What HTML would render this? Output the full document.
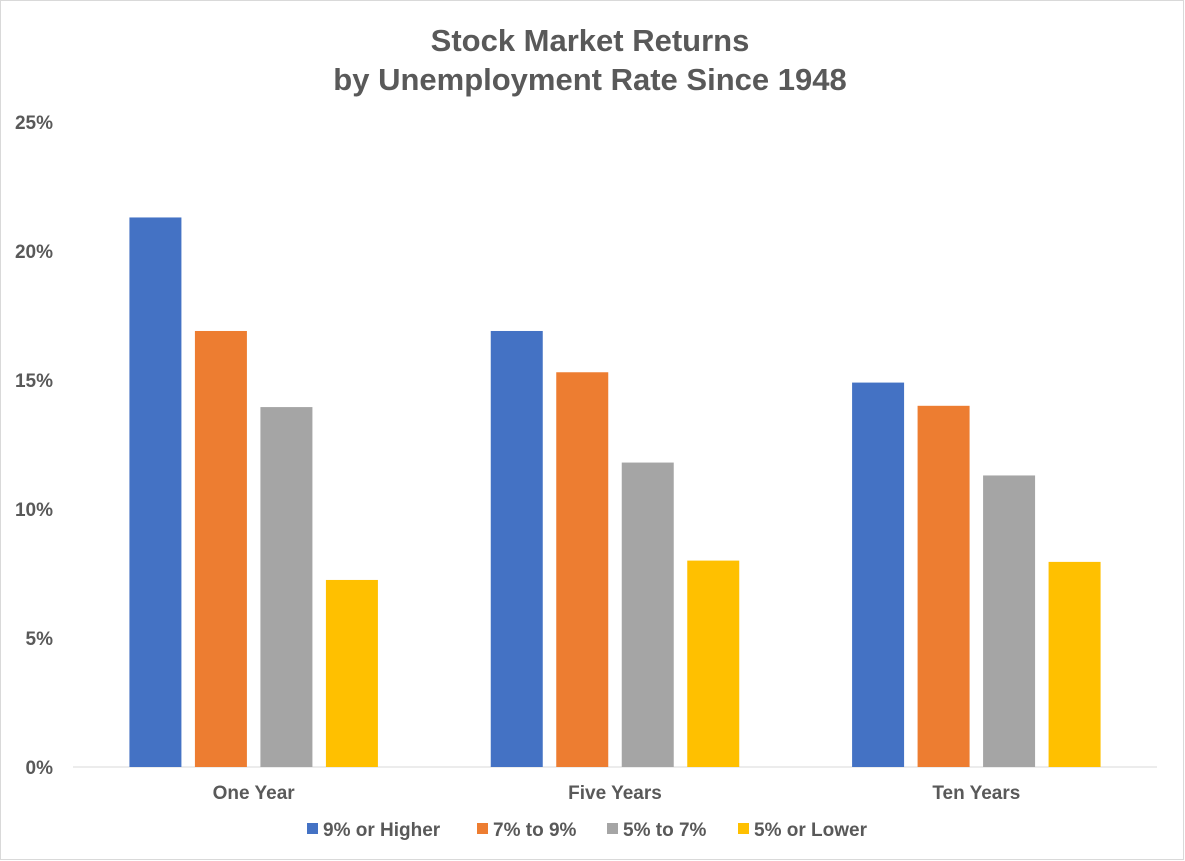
<!DOCTYPE html>
<html><head><meta charset="utf-8"><style>
body{margin:0;background:#fff}
svg{display:block;font-family:"Liberation Sans",Arial,sans-serif}
</style></head><body>
<svg id="chart" width="1185" height="861">
<rect x="0.5" y="0.5" width="1183" height="859" fill="#fff" stroke="#d9d9d9"/>
<text x="590" y="51" text-anchor="middle" font-size="31" font-weight="bold" fill="#595959">Stock Market Returns</text>
<text x="590" y="90" text-anchor="middle" font-size="31" font-weight="bold" fill="#595959">by Unemployment Rate Since 1948</text>
<g id="plot"></g>
</svg>
<script>
const categories=["One Year","Five Years","Ten Years"];
const seriesNames=["9% or Higher","7% to 9%","5% to 7%","5% or Lower"];
const s1=[21.3,16.9,14.9];
const s2=[16.9,15.3,14.0];
const s3=[13.95,11.8,11.3];
const s4=[7.25,8.0,7.95];
const ticks=[0,5,10,15,20,25];
const tickLabels=["0%","5%","10%","15%","20%","25%"];
const colors=["#4472c4","#ed7d31","#a5a5a5","#ffc000"];
const series=[s1,s2,s3,s4];
const NS="http://www.w3.org/2000/svg";
const g=document.getElementById('plot');
const x0=73,x1=1157,y0=767,yTop=122,vmax=25;
const y=v=>y0-(v/vmax)*(y0-yTop);
const bw=(x1-x0)/categories.length;
const barW=52,step=65.5;
function mk(t,a){const e=document.createElementNS(NS,t);for(const k in a)e.setAttribute(k,a[k]);g.appendChild(e);return e;}
ticks.forEach((t,i)=>{
 const e=mk('text',{x:53,y:y(t)+7,'text-anchor':'end','font-size':19,'font-weight':'bold',fill:'#595959'});
 e.textContent=tickLabels[i];
 
 
});
const base=mk('line',{x1:x0,x2:x1,y1:y0,y2:y0,stroke:'#d9d9d9','stroke-width':1});


categories.forEach((c,ci)=>{
 const cx=x0+bw*(ci+0.5);
 series.forEach((s,si)=>{
  const bx=cx+(si-1.5)*step-barW/2;
  const r=mk('rect',{x:bx,y:y(s[ci]),width:barW,height:y0-y(s[ci]),fill:colors[si]});
  
  
 });
 const t=mk('text',{x:cx,y:799,'text-anchor':'middle','font-size':19,'font-weight':'bold',fill:'#595959'});
 t.textContent=c;
 
 
});
const lx=[307,477,607,738];
seriesNames.forEach((n,i)=>{
 const r=mk('rect',{x:lx[i],y:823,width:11,height:11,fill:colors[i]});
 
 
 const t=mk('text',{x:lx[i]+16,y:836,'font-size':19,'font-weight':'bold',fill:'#595959'});
 t.textContent=n;
 
 
});
</script>
</body></html>
